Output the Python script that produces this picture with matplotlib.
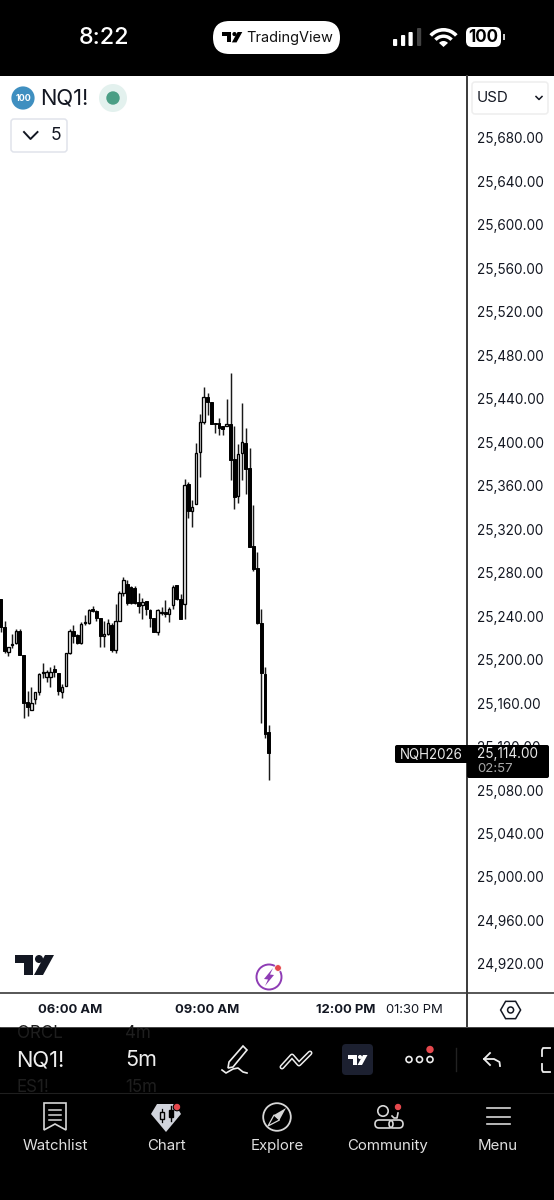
import numpy as np
import matplotlib
matplotlib.use('Agg')
import matplotlib.pyplot as plt
from matplotlib.patches import Circle, Rectangle, FancyBboxPatch, Polygon, Wedge, RegularPolygon

plt.rcParams['font.family'] = ['Inter', 'DejaVu Sans']

# 5 minute candles
opens = [25256, 25230, 25207, 25213, 25215, 25226, 25204, 25161, 25154, 25164, 25170, 25188,
         25184, 25184, 25191, 25188, 25170, 25176, 25206, 25226, 25223, 25215, 25234, 25234,
         25247, 25245, 25238, 25222, 25224, 25232, 25209, 25236, 25261, 25270, 25267, 25266,
         25253, 25250, 25254, 25246, 25238, 25225, 25243, 25244, 25242, 25250, 25269, 25256,
         25251, 25362, 25337, 25343, 25391, 25419, 25442, 25437, 25418, 25418, 25415, 25415,
         25417, 25385, 25351, 25390, 25399, 25376, 25305, 25284, 25234, 25187, 25133]
highs = [25256, 25236, 25212, 25224, 25228, 25228, 25204, 25171, 25175, 25170, 25188, 25197,
         25190, 25193, 25195, 25188, 25178, 25206, 25228, 25232, 25224, 25235, 25241, 25247,
         25249, 25246, 25238, 25236, 25237, 25234, 25251, 25263, 25276, 25273, 25268, 25268,
         25261, 25257, 25254, 25247, 25238, 25247, 25248, 25255, 25248, 25269, 25269, 25260,
         25366, 25363, 25347, 25399, 25426, 25451, 25445, 25437, 25418, 25422, 25415, 25440,
         25464, 25415, 25398, 25436, 25413, 25395, 25342, 25299, 25247, 25193, 25140]
lows = [25225, 25206, 25203, 25211, 25214, 25204, 25146, 25148, 25154, 25159, 25167, 25183,
        25179, 25175, 25184, 25167, 25165, 25176, 25205, 25215, 25214, 25214, 25232, 25233,
        25244, 25236, 25212, 25212, 25223, 25207, 25206, 25236, 25259, 25250, 25251, 25251,
        25243, 25237, 25241, 25230, 25225, 25223, 25241, 25239, 25235, 25247, 25255, 25237,
        25237, 25330, 25322, 25343, 25368, 25417, 25425, 25417, 25409, 25407, 25407, 25415,
        25365, 25339, 25344, 25365, 25352, 25304, 25282, 25233, 25142, 25128, 25089]
closes = [25230, 25208, 25212, 25214, 25226, 25204, 25160, 25156, 25160, 25170, 25187, 25189,
          25189, 25189, 25189, 25171, 25175, 25206, 25226, 25222, 25215, 25233, 25235, 25246,
          25245, 25238, 25222, 25224, 25234, 25209, 25236, 25261, 25273, 25252, 25252, 25252,
          25249, 25253, 25247, 25238, 25225, 25246, 25244, 25242, 25247, 25267, 25256, 25237,
          25361, 25337, 25340, 25390, 25419, 25442, 25437, 25417, 25417, 25413, 25412, 25417,
          25384, 25350, 25389, 25400, 25375, 25304, 25283, 25234, 25188, 25132, 25114]

price_ticks = list(range(24920, 25720, 40))
time_ticks = [18, 54, 90, 108]
time_labels = ['06:00 AM', '09:00 AM', '12:00 PM', '01:30 PM']
time_bold = [True, True, True, False]

INK = '#131722'


def px(size):
    # font sizes below are given in screen pixels
    return size * 0.72


def tv_logo(axis, x, y, scale, color, zorder=5):
    # TradingView mark, drawn in a 39x20 box
    t_shape = [(0, 0), (18, 0), (18, 20), (9, 20), (9, 8), (0, 8)]
    slash = [(39, 0), (28, 20), (19, 20), (30, 0)]
    for shape in (t_shape, slash):
        pts = [(x + a * scale, y + b * scale) for a, b in shape]
        axis.add_patch(Polygon(pts, closed=True, fc=color, ec='none', zorder=zorder))
    axis.add_patch(Circle((x + 24 * scale, y + 4 * scale), 4 * scale, fc=color, ec='none', zorder=zorder))


def round_box(axis, x0, y0, x1, y1, radius, fc, ec='none', lw=1, zorder=3):
    axis.add_patch(FancyBboxPatch((x0, y0), x1 - x0, y1 - y0,
                                  boxstyle=f'round,pad=0,rounding_size={radius}',
                                  fc=fc, ec=ec, lw=lw, zorder=zorder))


fig = plt.figure(figsize=(5.54, 12), dpi=100, facecolor='white')

# Chart area, 0-467 px across and 77-993 px down
ax = fig.add_axes([0, 1 - 993 / 1200, 467 / 554, (993 - 77) / 1200], zorder=1)
spacing = 3.83
ax.set_xlim(-0.7 / spacing, (467 - 0.7) / spacing)
ax.set_ylim(25680 - (993 - 138) * 0.9202, 25680 + (138 - 77) * 0.9202)

idx = np.arange(len(opens))
opens_a, closes_a = np.array(opens), np.array(closes)
ax.vlines(idx, lows, highs, color='#1a1a1a', lw=1.05, zorder=1)
up = closes_a >= opens_a
ax.bar(idx[up], closes_a[up] - opens_a[up], bottom=opens_a[up], width=0.66,
       fc='#f2f2f2', ec='black', lw=0.95, zorder=2)
ax.bar(idx[~up], opens_a[~up] - closes_a[~up], bottom=closes_a[~up], width=0.74,
       fc='black', ec='black', lw=0.7, zorder=2)

for side in ax.spines.values():
    side.set_visible(False)
ax.yaxis.tick_right()
ax.set_yticks(price_ticks)
ax.set_yticklabels([f'{p:,.2f}' for p in price_ticks], fontsize=px(13.6), color=INK)
ax.tick_params(axis='y', length=0, pad=7.4)
ax.set_xticks(time_ticks)
ax.set_xticklabels(time_labels, fontsize=px(13), color=INK)
for lab, bold in zip(ax.get_xticklabels(), time_bold):
    lab.set_fontweight('bold' if bold else 'normal')
ax.tick_params(axis='x', length=0, pad=8.2)

# Everything around the chart is app chrome, drawn in pixel coordinates
ui = fig.add_axes([0, 0, 1, 1], zorder=2)
ui.set_xlim(0, 554)
ui.set_ylim(1200, 0)
ui.axis('off')
ui.patch.set_alpha(0)

ui.add_patch(Rectangle((0, 0), 554, 76, fc='black', ec='none', zorder=1))
ui.add_patch(Rectangle((0, 1027), 554, 173, fc='black', ec='none', zorder=1))
ui.plot([467, 467], [76, 1027], color='#3a3a3a', lw=1.4, zorder=2)
ui.plot([0, 554], [993, 993], color='#3a3a3a', lw=1.2, zorder=2)

# Status bar
ui.text(104, 38.5, '8:22', color='white', fontsize=px(23.5), fontweight='medium', ha='center', va='center', zorder=5)
round_box(ui, 213, 21, 340, 54, 16.5, 'white')
tv_logo(ui, 222, 32, 0.52, 'black')
ui.text(290, 38, 'TradingView', color='#111111', fontsize=px(14.5), ha='center', va='center', zorder=5)
for x0, top, col in [(393, 39, 'white'), (401, 35, 'white'), (408.5, 32, 'white'), (417, 28, '#444444')]:
    round_box(ui, x0, top, x0 + 4.2, 46, 1, col)
for radius, width in [(19, 3.6), (12.5, 3.4)]:
    ui.add_patch(Wedge((443.5, 47), radius, 222, 318, width=width, fc='white', ec='none', zorder=4))
ui.add_patch(Wedge((443.5, 47), 6, 222, 318, fc='white', ec='none', zorder=4))
round_box(ui, 466, 27, 501, 47, 6, 'white')
ui.add_patch(Rectangle((502.5, 34), 2, 6, fc='#cccccc', ec='none', zorder=4))
ui.text(483.5, 37.5, '100', color='black', fontsize=px(17), fontweight='bold', ha='center', va='center', zorder=5)

# Symbol legend
ui.add_patch(Circle((23, 98), 11.6, fc='#3f8fc0', ec='none', zorder=3))
ui.text(23, 98.5, '100', color='white', fontsize=px(9), fontweight='bold', ha='center', va='center', zorder=4)
ui.text(40, 98.5, 'NQ1!', color=INK, fontsize=px(22), ha='left', va='center', zorder=4)
ui.add_patch(Circle((113, 98), 14, fc='#e3f1ee', ec='none', zorder=3))
ui.add_patch(Circle((113, 98), 6.7, fc='#4a9e85', ec='none', zorder=4))
round_box(ui, 11, 119, 67, 152, 3, 'white', ec='#e0e3eb', lw=1.1)
ui.plot([24, 30.5, 37.5], [132, 139, 132], color=INK, lw=1.4, zorder=4)
ui.text(56, 135.5, '5', color=INK, fontsize=px(17.5), ha='center', va='center', zorder=4)
round_box(ui, 472, 82, 548, 114, 3, 'white', ec='#eeeeee', lw=1.1)
ui.text(477, 98, 'USD', color=INK, fontsize=px(15), ha='left', va='center', zorder=4)
ui.plot([536, 539, 542], [96.5, 99.5, 96.5], color=INK, lw=1.1, zorder=4)

# Last price tag
round_box(ui, 395, 745, 470, 763, 2, 'black', zorder=6)
round_box(ui, 467, 745, 549, 778, 2, 'black', zorder=6)
ui.text(431, 755, 'NQH2026', color='#e8e8e8', fontsize=px(13.4), ha='center', va='center', zorder=7)
ui.text(477, 754, f'{closes[-1]:,.2f}', color='#e8e8e8', fontsize=px(13.6), ha='left', va='center', zorder=7)
ui.text(477, 768.5, '02:57', color='#a8a8a8', fontsize=px(13.2), ha='left', va='center', zorder=7)

# Watermark logo and deep backtest badge
tv_logo(ui, 15, 955, 1.0, '#131722')
ui.add_patch(Circle((269, 977), 12.5, fc='none', ec='#8e3cb5', lw=1.4, zorder=3))
ui.add_patch(Polygon([(273, 968), (264, 979), (268, 979.5), (265, 986), (274, 975), (270, 974.5)],
                     closed=True, fc='#8e3cb5', ec='none', zorder=4))
ui.add_patch(Circle((278, 968), 3.4, fc='#e5484d', ec='white', lw=0.6, zorder=5))

# Settings hexagon under the price scale
ui.add_patch(RegularPolygon((510.6, 1010), 6, radius=10, orientation=np.pi / 2, fc='none', ec=INK, lw=1.1, zorder=3))
ui.add_patch(Circle((510.6, 1010), 3, fc='none', ec=INK, lw=1.1, zorder=3))
ui.plot([0, 554], [1026.5, 1026.5], color='#555555', lw=0.6, zorder=2)

# Toolbar with the scrolling pickers, clipped at the top by the time row
clip = Rectangle((0, 1027), 554, 173, transform=ui.transData)
for x0, y0, label, col, size in [(17, 1033, 'ORCL', '#1e1e1e', 17), (125, 1033, '4m', '#1e1e1e', 17),
                                 (16, 1060.5, 'NQ1!', '#eeeeee', 22), (125, 1060.5, '5m', '#eeeeee', 21.5),
                                 (17, 1088, 'ES1!', '#1e1e1e', 17), (125, 1088, '15m', '#1e1e1e', 17)]:
    t = ui.text(x0, y0, label, color=col, fontsize=px(size), ha='left', va='center', zorder=3)
    t.set_clip_path(clip)
ui.plot([0, 554], [1093, 1093], color='#1f1f1f', lw=0.8, zorder=2)

# Pen
ui.add_patch(Polygon([(243, 1046), (247, 1050), (233, 1067), (228, 1068), (229, 1062)],
                     closed=True, fc='none', ec='#eeeeee', lw=1.2, zorder=3))
ui.plot([222, 226, 233, 238, 243, 247], [1070, 1073, 1069, 1068, 1072, 1073], color='#eeeeee', lw=1.2, zorder=3)
# Zigzag tool
ui.plot([282, 292, 299, 310], [1067, 1056, 1064, 1053], color='#eeeeee', lw=3.6, zorder=3, solid_capstyle='round')
ui.plot([282, 292, 299, 310], [1067, 1056, 1064, 1053], color='black', lw=1.4, zorder=4, solid_capstyle='round')
# Logo button
round_box(ui, 342, 1044, 373, 1075, 4, '#1c2030')
tv_logo(ui, 348, 1055, 0.5, 'white')
# More button
for x0 in [409, 419.5, 430]:
    ui.add_patch(Circle((x0, 1059.5), 3, fc='none', ec='#eeeeee', lw=1.2, zorder=3))
ui.add_patch(Circle((430, 1049.5), 3.7, fc='#e5484d', ec='none', zorder=4))
ui.plot([455.5, 455.5], [1048, 1071], color='#222222', lw=1, zorder=3)
# Undo arrow
ui.plot([490, 484, 490], [1053, 1059, 1065], color='#eeeeee', lw=1.3, zorder=3)
ui.plot([484, 494, 499.5, 500], [1059, 1059, 1062, 1066], color='#eeeeee', lw=1.3, zorder=3)
# Cut off bracket at the right edge
ui.plot([550, 543, 542, 542], [1048, 1048, 1050, 1056], color='#eeeeee', lw=1.3, zorder=3)
ui.plot([550, 543, 542, 542], [1072, 1072, 1070, 1064], color='#eeeeee', lw=1.3, zorder=3)

# Bottom navigation
for x0, label in [(55, 'Watchlist'), (166, 'Chart'), (277, 'Explore'), (388, 'Community'), (498, 'Menu')]:
    ui.text(x0, 1146, label, color='#e0e0e0', fontsize=px(15), ha='center', va='center', zorder=3)

nav = '#d8d8d8'
ui.add_patch(Polygon([(44, 1103), (66, 1103), (66, 1130), (55, 1124), (44, 1130)],
                     closed=True, fc='none', ec=nav, lw=1.2, zorder=3))
for y0 in [1110, 1115, 1120]:
    ui.plot([49, 61], [y0, y0], color=nav, lw=1.1, zorder=3)

ui.add_patch(Polygon([(157, 1104), (175, 1104), (181, 1114), (166, 1132), (151, 1114)],
                     closed=True, fc='#d1d4dc', ec='none', zorder=3))
ui.add_patch(Rectangle((160, 1112), 3.5, 7, fc='#d1d4dc', ec='black', lw=1, zorder=4))
ui.plot([161.7, 161.7], [1109, 1122], color='black', lw=0.9, zorder=3.5)
ui.add_patch(Rectangle((169, 1110), 3.5, 7, fc='black', ec='black', lw=1, zorder=4))
ui.plot([170.7, 170.7], [1106, 1121], color='black', lw=1, zorder=4)
ui.add_patch(Circle((177, 1107), 3.8, fc='#e5484d', ec='black', lw=0.8, zorder=5))

ui.add_patch(Circle((277, 1117), 13.8, fc='none', ec=nav, lw=1.3, zorder=3))
ui.add_patch(Polygon([(286, 1108), (279.5, 1120), (274, 1115)], closed=True, fc=nav, ec='none', zorder=4))
ui.add_patch(Polygon([(268, 1126), (279.5, 1120), (274, 1115)], closed=True, fc='none', ec=nav, lw=0.9, zorder=4))

ui.add_patch(Circle((383, 1111), 5.2, fc='none', ec=nav, lw=1.2, zorder=3))
round_box(ui, 375, 1120, 393, 1128, 4, 'none', ec=nav, lw=1.2)
round_box(ui, 389, 1120, 403, 1128, 4, 'black', ec=nav, lw=1.2, zorder=2.5)
ui.plot([392, 394, 397, 398], [1116, 1118, 1118, 1113], color=nav, lw=1.2, zorder=3)
ui.add_patch(Circle((398, 1107), 3.8, fc='#e5484d', ec='black', lw=0.8, zorder=5))

for y0 in [1108, 1117, 1124]:
    ui.plot([487, 510], [y0, y0], color=nav, lw=1.2, zorder=3)

fig.savefig('out.png', dpi=100, facecolor='white')
